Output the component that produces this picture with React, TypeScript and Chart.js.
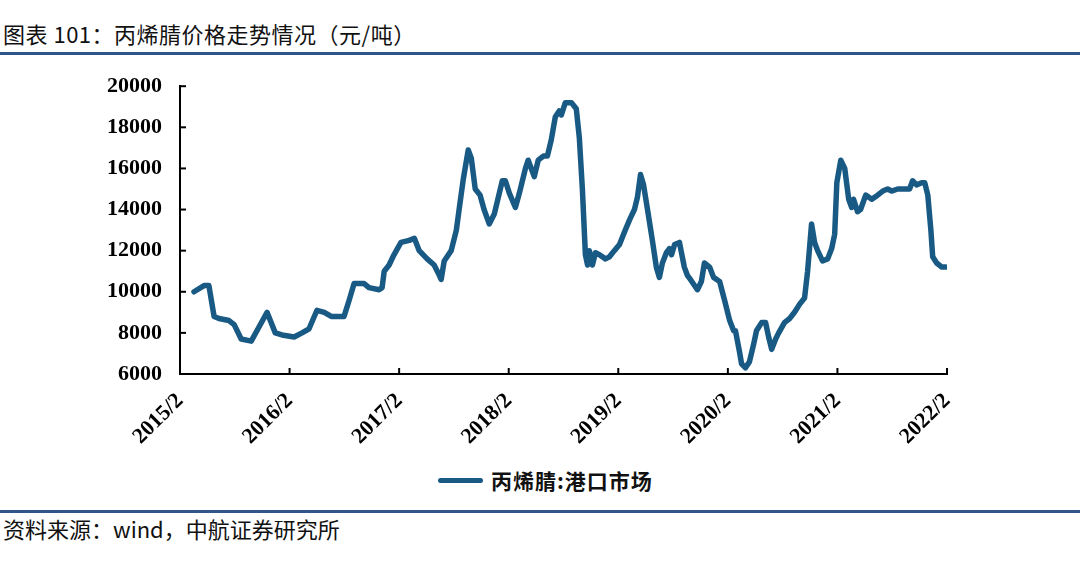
import React, { useEffect, useRef } from "react";
import { Chart, registerables } from "chart.js";

Chart.register(...registerables);

const TITLE = "图表 101：丙烯腈价格走势情况（元/吨）";
const SOURCE = "资料来源：wind，中航证券研究所";
const SERIES_NAME = "丙烯腈:港口市场";

const xTickLabels = ["2015/2", "2016/2", "2017/2", "2018/2", "2019/2", "2020/2", "2021/2", "2022/2"];
const yTicks = [6000, 8000, 10000, 12000, 14000, 16000, 18000, 20000];

const dates = [
  "2015-03-17", "2015-04-20", "2015-05-06", "2015-05-23", "2015-06-09", "2015-07-12", "2015-07-29", "2015-08-22",
  "2015-09-25", "2015-10-21", "2015-11-17", "2015-12-14", "2016-01-06", "2016-02-16", "2016-03-12", "2016-04-05",
  "2016-05-01", "2016-05-25", "2016-06-18", "2016-07-30", "2016-08-17", "2016-09-03", "2016-10-06", "2016-10-22",
  "2016-11-25", "2016-12-05", "2016-12-12", "2016-12-28", "2017-01-14", "2017-02-07", "2017-03-04", "2017-03-21",
  "2017-04-07", "2017-05-03", "2017-05-26", "2017-06-13", "2017-06-19", "2017-06-29", "2017-07-22", "2017-08-09",
  "2017-08-18", "2017-09-02", "2017-09-18", "2017-09-28", "2017-10-11", "2017-10-27", "2017-11-10", "2017-11-27",
  "2017-12-14", "2017-12-27", "2018-01-10", "2018-01-20", "2018-02-03", "2018-02-23", "2018-03-06", "2018-03-26",
  "2018-04-05", "2018-04-25", "2018-05-08", "2018-05-25", "2018-06-08", "2018-06-21", "2018-07-04", "2018-07-17",
  "2018-07-24", "2018-08-07", "2018-08-27", "2018-09-13", "2018-09-23", "2018-10-03", "2018-10-13", "2018-10-20",
  "2018-10-26", "2018-11-06", "2018-11-16", "2018-11-29", "2018-12-19", "2019-01-02", "2019-01-18", "2019-02-05",
  "2019-02-21", "2019-03-08", "2019-03-24", "2019-04-04", "2019-04-14", "2019-04-24", "2019-05-07", "2019-05-23",
  "2019-06-06", "2019-06-16", "2019-06-26", "2019-07-09", "2019-07-19", "2019-07-26", "2019-08-06", "2019-08-22",
  "2019-09-08", "2019-09-18", "2019-09-28", "2019-10-21", "2019-11-04", "2019-11-14", "2019-12-01", "2019-12-14",
  "2020-01-04", "2020-01-20", "2020-02-07", "2020-02-20", "2020-02-26", "2020-03-09", "2020-03-16", "2020-03-29",
  "2020-04-12", "2020-04-25", "2020-05-05", "2020-05-22", "2020-06-05", "2020-06-15", "2020-06-25", "2020-07-08",
  "2020-07-18", "2020-08-07", "2020-08-24", "2020-09-10", "2020-09-27", "2020-10-13", "2020-10-23", "2020-11-06",
  "2020-11-16", "2020-11-26", "2020-12-12", "2020-12-29", "2021-01-12", "2021-01-22", "2021-01-29", "2021-02-12",
  "2021-02-25", "2021-03-08", "2021-03-18", "2021-03-24", "2021-04-07", "2021-04-17", "2021-05-04", "2021-05-24",
  "2021-06-13", "2021-06-30", "2021-07-16", "2021-07-29", "2021-08-19", "2021-09-12", "2021-09-28", "2021-10-08",
  "2021-10-21", "2021-11-08", "2021-11-18", "2021-11-28", "2021-12-08", "2021-12-14", "2021-12-27", "2022-01-14",
  "2022-01-27",
];

const prices = [
  10000, 10300, 10300, 8800, 8700, 8600, 8400, 7700,
  7600, 8300, 9000, 8000, 7900, 7800, 8000, 8200,
  9100, 9000, 8800, 8800, 9600, 10400, 10400, 10200,
  10100, 10200, 11000, 11300, 11800, 12400, 12500, 12600,
  12000, 11600, 11300, 10800, 10600, 11500, 12000, 13000,
  14000, 15500, 16900, 16500, 15000, 14700, 14000, 13300,
  13800, 14600, 15400, 15400, 14800, 14100, 14800, 16000,
  16400, 15600, 16400, 16600, 16600, 17400, 18500, 18800,
  18600, 19200, 19200, 18900, 17500, 15000, 11800, 11300,
  12000, 11300, 11900, 11800, 11600, 11700, 12000, 12300,
  12900, 13500, 14000, 14600, 15700, 15200, 14000, 12500,
  11200, 10700, 11400, 11900, 12100, 11800, 12300, 12400,
  11200, 10800, 10600, 10100, 10500, 11400, 11200, 10700,
  10500, 9600, 8600, 8100, 8100, 7100, 6500, 6300,
  6600, 7400, 8100, 8500, 8500, 7800, 7200, 7700,
  8000, 8500, 8700, 9000, 9400, 9700, 11000, 13300,
  12400, 12000, 11500, 11600, 12100, 12800, 15300, 16400,
  16000, 14500, 14100, 14500, 13900, 14000, 14700, 14500,
  14700, 14900, 15000, 14900, 15000, 15000, 15000, 15400,
  15200, 15300, 15300, 14700, 13000, 11700, 11400, 11200,
  11200,
];

const LINE_COLOR = "#195a85";
const RULE_COLOR = "#2f5487";

function monthsFromStart(s: string): number {
  const [y, m, d] = s.split("-").map(Number);
  return (y - 2015) * 12 + (m - 2) + (d - 1) / 30;
}

const innerTicks = {
  id: "innerTicks",
  beforeDatasetsDraw(chart: any) {
    const { ctx, chartArea, scales } = chart;
    ctx.save();
    ctx.strokeStyle = "#000";
    ctx.lineWidth = 2;
    scales.y.ticks.forEach((_t: any, i: number) => {
      const y = scales.y.getPixelForTick(i);
      ctx.beginPath();
      ctx.moveTo(chartArea.left, y);
      ctx.lineTo(chartArea.left + 6, y);
      ctx.stroke();
    });
    scales.x.ticks.forEach((_t: any, i: number) => {
      const x = scales.x.getPixelForTick(i);
      ctx.beginPath();
      ctx.moveTo(x, chartArea.bottom);
      ctx.lineTo(x, chartArea.bottom - 6);
      ctx.stroke();
    });
    ctx.restore();
  },
};

export default function App() {
  const canvasRef = useRef<HTMLCanvasElement | null>(null);

  useEffect(() => {
    if (!canvasRef.current) return;
    const points = dates.map((d, i) => ({ x: monthsFromStart(d), y: prices[i] }));
    const chart = new Chart(canvasRef.current, {
      type: "line",
      data: {
        datasets: [
          {
            label: SERIES_NAME,
            data: points,
            borderColor: LINE_COLOR,
            backgroundColor: LINE_COLOR,
            borderWidth: 5.5,
            pointRadius: 0,
            tension: 0,
            borderJoinStyle: "round",
            borderCapStyle: "round",
          },
        ],
      },
      options: {
        animation: false,
        responsive: false,
        maintainAspectRatio: false,
        layout: { padding: { left: 80, right: 133, top: 10, bottom: 0 } },
        plugins: { legend: { display: false }, tooltip: { enabled: false } },
        scales: {
          x: {
            type: "linear",
            min: 0,
            max: 84,
            afterFit: (s: any) => {
              s.height = 81;
            },
            afterBuildTicks: (s: any) => {
              s.ticks = xTickLabels.map((_l, i) => ({ value: i * 12 }));
            },
            grid: { display: false, drawTicks: false },
            border: { display: true, color: "#000", width: 2 },
            ticks: {
              autoSkip: false,
              maxRotation: 45,
              minRotation: 45,
              padding: 14,
              color: "#000",
              font: { family: "'Liberation Serif', 'DejaVu Serif', serif", size: 22, weight: "bold" },
              callback: (v: any) => xTickLabels[Math.round(Number(v) / 12)],
            },
          },
          y: {
            min: 6000,
            max: 20000,
            afterFit: (s: any) => {
              s.width = 100;
            },
            afterBuildTicks: (s: any) => {
              s.ticks = yTicks.map((v) => ({ value: v }));
            },
            grid: { display: false, drawTicks: false },
            border: { display: true, color: "#000", width: 2 },
            ticks: {
              padding: 18,
              color: "#000",
              font: { family: "'Liberation Serif', 'DejaVu Serif', serif", size: 22, weight: "bold" },
              callback: (v: any) => String(v),
            },
          },
        },
      },
      plugins: [innerTicks],
    });
    return () => chart.destroy();
  }, []);

  const cjk = "'Noto Sans CJK SC', 'Noto Sans', sans-serif";

  return (
    <div style={{ position: "absolute", left: 0, top: 0, width: 1080, height: 566, background: "#fff", overflow: "hidden" }}>
      <div style={{ position: "absolute", left: 3, top: 17, fontFamily: cjk, fontSize: 22, letterSpacing: 0.5, lineHeight: "32px", color: "#111", whiteSpace: "nowrap" }}>
        {TITLE}
      </div>
      <div style={{ position: "absolute", left: 0, top: 52, width: 1080, height: 3, background: RULE_COLOR }} />
      <canvas ref={canvasRef} width={1080} height={400} style={{ position: "absolute", left: 0, top: 55, width: 1080, height: 400 }} />
      <div style={{ position: "absolute", left: 438, top: 465, height: 30, display: "flex", alignItems: "center" }}>
        <div style={{ width: 45, height: 5, borderRadius: 3, background: LINE_COLOR }} />
        <div style={{ marginLeft: 8, fontFamily: cjk, fontWeight: 700, fontSize: 21, letterSpacing: 1, color: "#111", whiteSpace: "nowrap" }}>{SERIES_NAME}</div>
      </div>
      <div style={{ position: "absolute", left: 0, top: 510, width: 1080, height: 3, background: RULE_COLOR }} />
      <div style={{ position: "absolute", left: 3, top: 512, fontFamily: cjk, fontSize: 22, lineHeight: "32px", color: "#111", whiteSpace: "nowrap" }}>
        {SOURCE}
      </div>
    </div>
  );
}
